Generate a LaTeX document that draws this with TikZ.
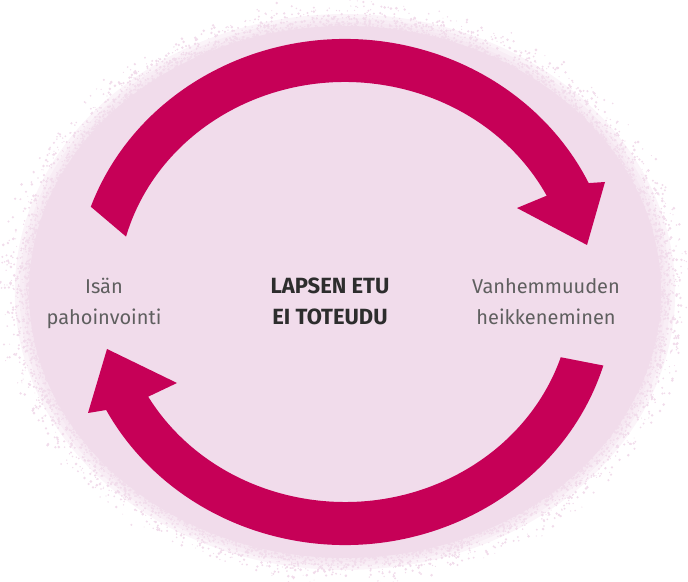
\documentclass[tikz,border=0pt]{standalone}
\usepackage{fontspec}
\setmainfont{Fira Sans}
\usetikzlibrary{calc}
\definecolor{arrowred}{RGB}{198,0,87}
\definecolor{blobpink}{RGB}{241,220,235}
\definecolor{sidegray}{RGB}{95,95,95}
\definecolor{centergray}{RGB}{45,45,45}
\tikzset{
  cyclearrow/.style={fill=arrowred, draw=none},
  sidetext/.style={anchor=base, text=sidegray, inner sep=0pt, font=\fontsize{20}{24}\selectfont},
  centertext/.style={anchor=base, text=centergray, inner sep=0pt, font=\fontsize{22}{26}\selectfont\bfseries},
}
\begin{document}
\begin{tikzpicture}[x=1pt,y=1pt]
\useasboundingbox (0,0) rectangle (688,581);
\coordinate (C) at (345,289);
% background blob
\fill[blobpink] (C) ellipse [x radius=316, y radius=266];
\foreach \s in {1.00,1.015,1.03,1.045}{
  \fill[blobpink, opacity=0.3] (C) ellipse [x radius={316*\s}, y radius={266*\s}];
}
\pgfmathsetseed{11}
\foreach \i in {1,...,4200}{
  \pgfmathsetmacro\ang{rnd*360}
  \pgfmathsetmacro\rr{0.97+0.11*rnd*rnd}
  \pgfmathsetmacro\px{345+\rr*325*cos(\ang)}
  \pgfmathsetmacro\py{289+\rr*274*sin(\ang)}
  \pgfmathsetmacro\dr{0.5+1.0*rnd}
  \fill[blobpink] (\px,\py) circle (\dr);
}
% top arrow
\coordinate (TopTip) at (587,336);
\coordinate (TopBarbOut) at (605,399);
\coordinate (TopBarbIn) at (517,373);
\fill[cyclearrow] ($(C)+(160.3:270 and 253)$)
  arc[start angle=160.3, end angle=25.5, x radius=270, y radius=253]
  -- (TopBarbOut) -- (TopTip) -- (TopBarbIn)
  -- ($(C)+(27.3:227 and 210)$)
  arc[start angle=27.3, end angle=164.7, x radius=227, y radius=210]
  -- cycle;
% bottom arrow
\coordinate (BotTip) at (107,232);
\coordinate (BotBarbOut) at (88,168);
\coordinate (BotBarbIn) at (177,198);
\fill[cyclearrow] ($(C)+(-16.9:270 and 253)$)
  arc[start angle=-16.9, end angle=-152.2, x radius=270, y radius=253]
  -- (BotBarbOut) -- (BotTip) -- (BotBarbIn)
  -- ($(C)+(-150.1:227 and 210)$)
  arc[start angle=-150.1, end angle=-18.1, x radius=227, y radius=210]
  -- cycle;
% texts
\node[sidetext] (isan) at (104,287) {Isän};
\node[sidetext] (pahoinvointi) at (104,256) {pahoinvointi};
\node[centertext] (lapsen) at (330,287) {LAPSEN ETU};
\node[centertext] (toteudu) at (330,256) {EI TOTEUDU};
\node[sidetext] (vanhemmuuden) at (546,287) {Vanhemmuuden};
\node[sidetext] (heikkeneminen) at (546,256) {heikkeneminen};
\end{tikzpicture}
\end{document}
